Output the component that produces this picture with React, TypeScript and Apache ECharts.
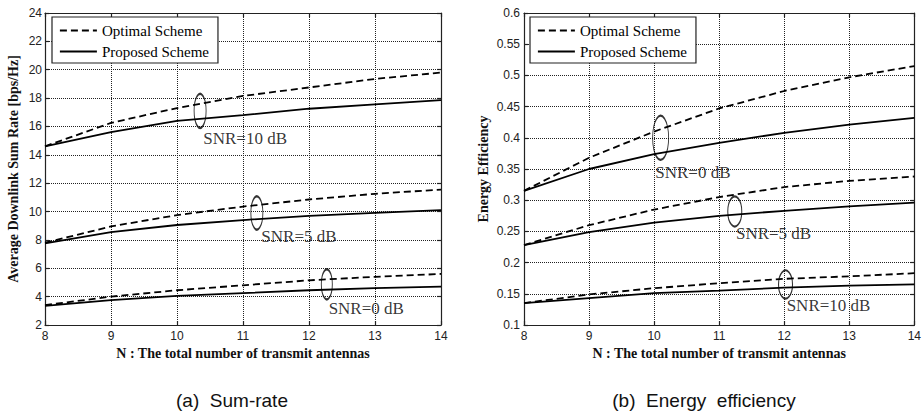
import React, { useEffect, useRef } from "react";
import * as echarts from "echarts";

// Number of transmit antennas (x)
const antennas = [8, 9, 10, 11, 12, 13, 14];

// (a) Sum-rate [bps/Hz]
const rateOpt10 = [14.6, 16.25, 17.3, 18.15, 18.75, 19.35, 19.8];
const ratePro10 = [14.6, 15.6, 16.4, 16.8, 17.25, 17.55, 17.85];
const rateOpt5 = [7.8, 8.95, 9.75, 10.35, 10.85, 11.25, 11.55];
const ratePro5 = [7.75, 8.55, 9.05, 9.4, 9.7, 9.9, 10.1];
const rateOpt0 = [3.4, 4.0, 4.45, 4.8, 5.15, 5.4, 5.6];
const ratePro0 = [3.35, 3.75, 4.05, 4.25, 4.45, 4.6, 4.7];

// (b) Energy efficiency
const eeOpt0 = [0.315, 0.368, 0.41, 0.447, 0.475, 0.497, 0.515];
const eePro0 = [0.315, 0.35, 0.374, 0.392, 0.408, 0.421, 0.432];
const eeOpt5 = [0.228, 0.26, 0.285, 0.305, 0.321, 0.331, 0.338];
const eePro5 = [0.228, 0.249, 0.264, 0.275, 0.283, 0.29, 0.296];
const eeOpt10 = [0.135, 0.149, 0.159, 0.167, 0.174, 0.178, 0.183];
const eePro10 = [0.135, 0.143, 0.151, 0.155, 0.16, 0.163, 0.165];

// Annotations (data coordinates)
const rateNotes = ["SNR=10 dB", "SNR=5 dB", "SNR=0 dB"];
const rateEllipseAt = [[10.35, 17.1], [11.21, 9.9], [12.27, 4.87]];
const rateNoteAt = [[10.39, 15.17], [11.27, 8.23], [12.29, 3.18]];
const eeNotes = ["SNR=0 dB", "SNR=5 dB", "SNR=10 dB"];
const eeEllipseAt = [[10.1, 0.4], [11.24, 0.282], [12.02, 0.165]];
const eeNoteAt = [[10.01, 0.345], [11.25, 0.246], [12.03, 0.131]];

const legendNames = ["Optimal Scheme", "Proposed Scheme"];
const captions = ["(a)  Sum-rate", "(b)  Energy  efficiency"];
const xName = "N : The total number of transmit antennas";
const yNames = ["Average Downlink Sum Rate [bps/Hz]", "Energy Efficiency"];

const SERIF = "'Liberation Serif', 'Times New Roman', serif";
const SANS = "'Liberation Sans', Arial, sans-serif";

const pair = (ys: number[]) => antennas.map((x, i) => [x, ys[i]]);

export default function App() {
  const ref = useRef<HTMLDivElement>(null);
  useEffect(() => {
    if (!ref.current) return;
    const chart = echarts.init(ref.current, undefined, { renderer: "svg" });

    const lineSeries = (name: string, ys: number[], g: number, dashed: boolean) => ({
      type: "line",
      name,
      xAxisIndex: g,
      yAxisIndex: g,
      data: pair(ys),
      symbol: "none",
      smooth: false,
      itemStyle: { color: "#000" },
      lineStyle: { color: "#000", width: 1.8, type: dashed ? [7, 4] : "solid" },
      z: 3,
    });

    const ellipseSizes = [
      [[12, 34], [12, 33], [11, 30]],
      [[16, 44], [14, 30], [14, 28]],
    ];
    const ellipseSeries = (pts: number[][], g: number) => ({
      type: "scatter",
      xAxisIndex: g,
      yAxisIndex: g,
      data: pts,
      symbol: "circle",
      symbolSize: (_v: any, p: any) => ellipseSizes[g][p.dataIndex],
      itemStyle: { color: "transparent", borderColor: "#000", borderWidth: 1.5 },
      silent: true,
      z: 4,
    });
    const noteSeries = (pts: number[][], texts: string[], g: number) => ({
      type: "scatter",
      xAxisIndex: g,
      yAxisIndex: g,
      data: pts.map((p, i) => ({ value: p, name: texts[i] })),
      symbolSize: 1,
      itemStyle: { color: "transparent" },
      label: {
        show: true,
        position: "right",
        distance: 0,
        formatter: "{b}",
        fontFamily: SERIF,
        fontSize: 17,
        color: "#000",
      },
      silent: true,
      z: 5,
    });

    const grids = [
      { left: 45, right: 483, top: 13, bottom: 93 },
      { left: 524, right: 3, top: 13, bottom: 93 },
    ];
    const yRanges = [
      { min: 2, max: 24, interval: 2 },
      { min: 0.1, max: 0.6, interval: 0.05 },
    ];

    const splitLine = { show: true, lineStyle: { color: "#222", width: 1, type: [1, 1] } };
    const axisLine = { show: true, onZero: false, lineStyle: { color: "#222", width: 1.2 } };
    const tick = { show: true, inside: true, length: 4, lineStyle: { color: "#222", width: 1.2 } };

    const xAxes: any[] = [];
    const yAxes: any[] = [];
    [0, 1].forEach((g) => {
      xAxes.push({
        type: "value",
        gridIndex: g,
        min: 8,
        max: 14,
        interval: 1,
        position: "bottom",
        axisLine,
        axisTick: tick,
        splitLine,
        axisLabel: { color: "#222", fontFamily: SANS, fontSize: 12, margin: 5 },
        name: xName,
        nameLocation: "middle",
        nameGap: 21,
        nameTextStyle: { fontFamily: SERIF, fontWeight: "bold", fontSize: 14, color: "#111" },
      });
      yAxes.push({
        type: "value",
        gridIndex: g,
        ...yRanges[g],
        position: "left",
        axisLine,
        axisTick: tick,
        splitLine,
        axisLabel: { color: "#222", fontFamily: SANS, fontSize: 12, margin: g === 0 ? 3 : 4 },
        name: yNames[g],
        nameLocation: "middle",
        nameGap: g === 0 ? 25 : 34,
        nameTextStyle: { fontFamily: SERIF, fontWeight: "bold", fontSize: 14, color: "#111" },
      });
    });
    // top / right mirrored axes for inner ticks on all sides
    [0, 1].forEach((g) => {
      xAxes.push({
        type: "value",
        gridIndex: g,
        min: 8,
        max: 14,
        interval: 1,
        position: "top",
        axisLine,
        axisTick: tick,
        splitLine: { show: false },
        axisLabel: { show: false },
      });
      yAxes.push({
        type: "value",
        gridIndex: g,
        ...yRanges[g],
        position: "right",
        axisLine,
        axisTick: tick,
        splitLine: { show: false },
        axisLabel: { show: false },
      });
    });

    const legendBase = {
      data: legendNames,
      orient: "vertical",
      top: 17,
      itemWidth: 37,
      itemHeight: 14,
      itemGap: 6,
      padding: [6, 9, 4, 7],
      backgroundColor: "#fff",
      borderColor: "#222",
      borderWidth: 1.2,
      borderRadius: 0,
      selectedMode: false,
      itemStyle: { color: "transparent", borderColor: "transparent", borderWidth: 0 },
      lineStyle: { color: "#000", width: 1.8 },
      textStyle: { fontFamily: SERIF, fontSize: 15, color: "#000", lineHeight: 15 },
    };

    chart.setOption({
      animation: false,
      backgroundColor: "#fff",
      grid: grids,
      xAxis: xAxes,
      yAxis: yAxes,
      legend: [
        { ...legendBase, left: 52 },
        { ...legendBase, left: 530 },
      ],
      graphic: [
        {
          type: "text",
          x: 232,
          y: 400,
          style: {
            text: captions[0],
            fontFamily: SANS,
            fontSize: 19,
            fill: "#111",
            align: "center",
            verticalAlign: "middle",
          },
        },
        {
          type: "text",
          x: 704,
          y: 400,
          style: {
            text: captions[1],
            fontFamily: SANS,
            fontSize: 19,
            fill: "#111",
            align: "center",
            verticalAlign: "middle",
          },
        },
      ],
      series: [
        lineSeries(legendNames[0], rateOpt10, 0, true),
        lineSeries(legendNames[1], ratePro10, 0, false),
        lineSeries(legendNames[0], rateOpt5, 0, true),
        lineSeries(legendNames[1], ratePro5, 0, false),
        lineSeries(legendNames[0], rateOpt0, 0, true),
        lineSeries(legendNames[1], ratePro0, 0, false),
        ellipseSeries(rateEllipseAt, 0),
        noteSeries(rateNoteAt, rateNotes, 0),
        lineSeries(legendNames[0], eeOpt0, 1, true),
        lineSeries(legendNames[1], eePro0, 1, false),
        lineSeries(legendNames[0], eeOpt5, 1, true),
        lineSeries(legendNames[1], eePro5, 1, false),
        lineSeries(legendNames[0], eeOpt10, 1, true),
        lineSeries(legendNames[1], eePro10, 1, false),
        ellipseSeries(eeEllipseAt, 1),
        noteSeries(eeNoteAt, eeNotes, 1),
      ],
    });
    return () => chart.dispose();
  }, []);

  return (
    <div
      ref={ref}
      style={{ position: "fixed", left: 0, top: 0, width: 924, height: 418, background: "#fff" }}
    />
  );
}
